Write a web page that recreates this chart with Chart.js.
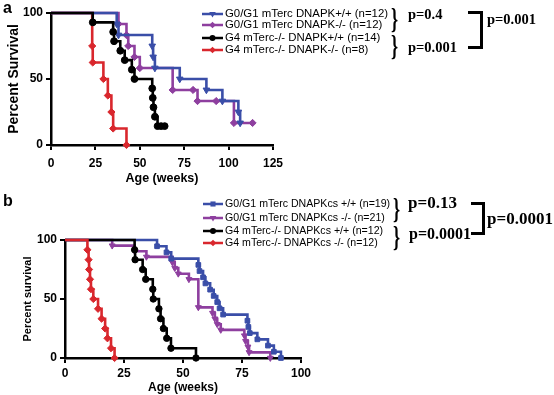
<!DOCTYPE html>
<html>
<head>
<meta charset="utf-8">
<script src="https://cdn.jsdelivr.net/npm/chart.js@4.4.0/dist/chart.umd.min.js"></script>
<style>
body { margin: 0; background: #fff; }
#wrap { position: relative; width: 554px; height: 395px; overflow: hidden; font-family: "Liberation Sans", Arial, sans-serif; color: #000; }
canvas { position: absolute; left: 0; }
.t { position: absolute; white-space: nowrap; line-height: 1; }
.lga { font-size: 11.4px; }
.lgb { font-size: 10.6px; }
.p { font-family: "Liberation Serif", "Times New Roman", serif; font-weight: bold; }
.brace { font-family: "Liberation Serif", serif; font-weight: bold; font-size: 30px; transform: scaleX(0.6); transform-origin: left top; }
.bk { position: absolute; box-sizing: border-box; border: solid #000; border-width: 3px 3px 3px 0; }
.lab { font-weight: bold; font-size: 16px; }
</style>
</head>
<body>
<div id="wrap">
  <canvas id="chartA" width="554" height="190" style="top:0"></canvas>
  <canvas id="chartB" width="554" height="205" style="top:190px"></canvas>

  <div class="t lab" style="left:3px;top:0px">a</div>
  <div class="t lga" style="left:225px;top:8px">G0/G1 mTerc DNAPK+/+ (n=12)</div>
  <div class="t lga" style="left:225px;top:19px">G0/G1 mTerc DNAPK-/- (n=12)</div>
  <div class="t lga" style="left:225px;top:32px">G4 mTerc-/- DNAPK+/+ (n=14)</div>
  <div class="t lga" style="left:225px;top:44px">G4 mTerc-/- DNAPK-/- (n=8)</div>
  <div class="t brace" style="left:391px;top:4px">}</div>
  <div class="t brace" style="left:391px;top:31px">}</div>
  <div class="t p" style="left:408px;top:7px;font-size:14.5px">p=0.4</div>
  <div class="t p" style="left:408px;top:40px;font-size:14.5px">p=0.001</div>
  <div class="bk" style="left:468px;top:11px;width:15px;height:38px"></div>
  <div class="t p" style="left:487px;top:12px;font-size:14.5px">p=0.001</div>

  <div class="t lab" style="left:3px;top:193px">b</div>
  <div class="t lgb" style="left:225px;top:198px">G0/G1 mTerc DNAPKcs +/+ (n=19)</div>
  <div class="t lgb" style="left:225px;top:212px">G0/G1 mTerc DNAPKcs -/- (n=21)</div>
  <div class="t lgb" style="left:225px;top:225px">G4 mTerc-/- DNAPKcs +/+ (n=12)</div>
  <div class="t lgb" style="left:225px;top:237px">G4 mTerc-/- DNAPKcs -/- (n=12)</div>
  <div class="t brace" style="left:393px;top:194px">}</div>
  <div class="t brace" style="left:393px;top:222px">}</div>
  <div class="t p" style="left:408px;top:194px;font-size:17px">p=0.13</div>
  <div class="t p" style="left:409px;top:226px;font-size:16px">p=0.0001</div>
  <div class="bk" style="left:471px;top:202px;width:14px;height:33px"></div>
  <div class="t p" style="left:487px;top:210px;font-size:17px">p=0.0001</div>
</div>

<script>
// panel a: age (weeks) at each event, and percent survival after it
const A_blue_t   = [0, 37, 38, 57, 57.5, 58.5, 72.5, 87.5, 96.5, 105.5, 106.5];
const A_blue_s   = [100, 91.7, 83.3, 75, 66.7, 58.3, 50, 41.7, 33.3, 25, 16.7];
const A_purple_t = [0, 38, 42.5, 43.5, 47, 50, 68.5, 80, 82.5, 93, 103, 113.5];
const A_purple_s = [100, 91.7, 83.3, 75, 66.7, 58.3, 41.7, 41.7, 33.3, 33.3, 16.7, 16.7];
const A_black_t  = [0, 23.5, 35, 35.5, 39, 41.5, 45.5, 47, 57, 57.3, 57.7, 58.5, 60, 62, 64];
const A_black_s  = [100, 92.9, 85.7, 78.6, 71.4, 64.3, 57.1, 50, 42.9, 35.7, 28.6, 21.4, 14.3, 14.3, 14.3];
const A_red_t    = [0, 23.2, 23.5, 29.5, 32, 34, 35, 42.5];
const A_red_s    = [100, 75, 62.5, 50, 37.5, 25, 12.5, 0];
const A_labels   = ['G0/G1 mTerc DNAPK+/+ (n=12)', 'G0/G1 mTerc DNAPK-/- (n=12)',
                    'G4 mTerc-/- DNAPK+/+ (n=14)', 'G4 mTerc-/- DNAPK-/- (n=8)'];

// panel b
const B_blue_t   = [0, 39, 43, 45, 56.5, 57, 58.5, 59.5, 61.5, 63, 64.5, 65.5, 67, 77.3, 77.7, 78.3, 81.5, 86, 88.5, 91.5];
const B_blue_s   = [100, 94.7, 89.5, 84.2, 78.9, 73.7, 68.4, 63.2, 57.9, 52.6, 47.4, 42.1, 36.8, 31.6, 26.3, 21.1, 15.8, 10.5, 5.3, 0];
const B_purple_t = [0, 20, 29.5, 34.5, 45.5, 46.5, 48, 52.5, 56.5, 62.5, 63.5, 64.5, 66, 76, 76.5, 77.5, 78, 87];
const B_purple_s = [100, 95.2, 90.5, 85.7, 81, 76.2, 71.4, 66.7, 42.9, 38.1, 33.3, 28.6, 23.8, 19, 14.3, 9.5, 4.8, 0];
const B_black_t  = [0, 29.5, 29.7, 32.9, 34.2, 37.2, 37.4, 39.8, 40.5, 41.7, 43.1, 44.9, 55.5];
const B_black_s  = [100, 91.7, 83.3, 75, 66.7, 58.3, 50, 41.7, 33.3, 25, 16.7, 8.3, 0];
const B_red_t    = [0, 9.5, 10, 10.2, 10.6, 11, 12, 14, 15.5, 17, 18, 19.5, 21];
const B_red_s    = [100, 91.7, 83.3, 75, 66.7, 58.3, 50, 41.7, 33.3, 25, 16.7, 8.3, 0];
const B_labels   = ['G0/G1 mTerc DNAPKcs +/+ (n=19)', 'G0/G1 mTerc DNAPKcs -/- (n=21)',
                    'G4 mTerc-/- DNAPKcs +/+ (n=12)', 'G4 mTerc-/- DNAPKcs -/- (n=12)'];

const BLUE = '#3a4ea8', PURPLE = '#8e3f9f', BLACK = '#000000', RED = '#d9272d';

function pts(t, s) {
  return t.map((x, i) => ({ x: x, y: s[i] }));
}

function km(label, t, s, color, style, rot, order, r) {
  return {
    label: label,
    data: pts(t, s),
    borderColor: color,
    backgroundColor: color,
    borderWidth: 2.6,
    stepped: true,
    fill: false,
    clip: false,
    order: order,
    pointStyle: style,
    pointRotation: rot,
    pointRadius: ctx => ctx.dataIndex === 0 ? 0 : r,
    pointBackgroundColor: color,
    pointBorderColor: color,
    pointBorderWidth: 1
  };
}

function marker(ctx, style, rot, r, x, y) {
  ctx.beginPath();
  if (style === 'circle') {
    ctx.arc(x, y, r, 0, Math.PI * 2);
  } else if (style === 'rect') {
    ctx.rect(x - r * 0.85, y - r * 0.85, r * 1.7, r * 1.7);
  } else if (style === 'rectRot') {
    ctx.moveTo(x, y - r * 1.1); ctx.lineTo(x + r * 1.1, y); ctx.lineTo(x, y + r * 1.1); ctx.lineTo(x - r * 1.1, y);
    ctx.closePath();
  } else if (style === 'triangle') {
    const d = rot ? -1 : 1;
    ctx.moveTo(x, y - d * r * 1.2); ctx.lineTo(x + r * 1.1, y + d * r * 0.7); ctx.lineTo(x - r * 1.1, y + d * r * 0.7);
    ctx.closePath();
  }
  ctx.fill();
}

const kmLegend = {
  id: 'kmLegend',
  afterDraw(chart, args, opts) {
    const ctx = chart.ctx;
    opts.rows.forEach((y, i) => {
      const ds = chart.data.datasets[i];
      ctx.save();
      ctx.strokeStyle = ds.borderColor;
      ctx.fillStyle = ds.borderColor;
      ctx.lineWidth = 2.5;
      ctx.beginPath();
      ctx.moveTo(opts.x0, y);
      ctx.lineTo(opts.x1, y);
      ctx.stroke();
      marker(ctx, ds.pointStyle, ds.pointRotation, 3, (opts.x0 + opts.x1) / 2, y);
      ctx.restore();
    });
  }
};

function axisOpts(cfg) {
  const tickFont = { family: 'Liberation Sans', weight: 'bold', size: 12 };
  return {
    animation: false,
    responsive: false,
    layout: { padding: { left: cfg.padL, right: cfg.padR, top: cfg.padT, bottom: 0 } },
    plugins: {
      legend: { display: false },
      tooltip: { enabled: false },
      kmLegend: { x0: cfg.lgX0, x1: cfg.lgX1, rows: cfg.rows }
    },
    scales: {
      x: {
        type: 'linear',
        min: 0,
        max: cfg.xMax,
        ticks: { stepSize: 25, color: '#000', font: tickFont, padding: cfg.xTickPad, maxRotation: 0 },
        grid: { drawOnChartArea: false, color: '#000', lineWidth: 2, tickLength: 5 },
        border: { color: '#000', width: 2.5 },
        title: {
          display: true, text: 'Age (weeks)', color: '#000',
          font: { family: 'Liberation Sans', weight: 'bold', size: cfg.xTitleSize },
          padding: { top: 0, bottom: cfg.xTitlePad }
        },
        afterFit: s => { s.height = cfg.xH; }
      },
      y: {
        min: 0,
        max: 100,
        ticks: { stepSize: 50, color: '#000', font: tickFont, padding: 3 },
        grid: { drawOnChartArea: false, color: '#000', lineWidth: 2, tickLength: 5 },
        border: { color: '#000', width: 2.5 },
        title: {
          display: true, text: cfg.yTitle, color: '#000',
          font: { family: 'Liberation Sans', weight: 'bold', size: cfg.yTitleSize },
          padding: { top: 4, bottom: 0 }
        },
        afterFit: s => { s.width = cfg.yW; }
      }
    }
  };
}

new Chart(document.getElementById('chartA'), {
  type: 'line',
  data: {
    datasets: [
      km(A_labels[0], A_blue_t, A_blue_s, BLUE, 'triangle', 180, 1, 3.8),
      km(A_labels[1], A_purple_t, A_purple_s, PURPLE, 'rectRot', 0, 2, 3.6),
      km(A_labels[2], A_black_t, A_black_s, BLACK, 'circle', 0, 0, 3.4),
      km(A_labels[3], A_red_t, A_red_s, RED, 'rectRot', 0, 3, 3.6)
    ]
  },
  options: axisOpts({
    padL: 2, padR: 281, padT: 13, yW: 49, xH: 45, xMax: 125,
    xTickPad: 6, xTitlePad: 4, xTitleSize: 12.5,
    yTitle: 'Percent Survival', yTitleSize: 14,
    lgX0: 202, lgX1: 223, rows: [14, 25, 38, 50]
  }),
  plugins: [kmLegend]
});

new Chart(document.getElementById('chartB'), {
  type: 'line',
  data: {
    datasets: [
      km(B_labels[0], B_blue_t, B_blue_s, BLUE, 'rect', 0, 2, 3.3),
      km(B_labels[1], B_purple_t, B_purple_s, PURPLE, 'triangle', 180, 3, 3.4),
      km(B_labels[2], B_black_t, B_black_s, BLACK, 'circle', 0, 1, 3.2),
      km(B_labels[3], B_red_t, B_red_s, RED, 'rectRot', 0, 0, 3.6)
    ]
  },
  options: axisOpts({
    padL: 17, padR: 253, padT: 50, yW: 48, xH: 37, xMax: 100,
    xTickPad: 3, xTitlePad: 0, xTitleSize: 12,
    yTitle: 'Percent survival', yTitleSize: 11,
    lgX0: 203, lgX1: 223, rows: [14, 28, 41, 53]
  }),
  plugins: [kmLegend]
});
</script>
</body>
</html>
